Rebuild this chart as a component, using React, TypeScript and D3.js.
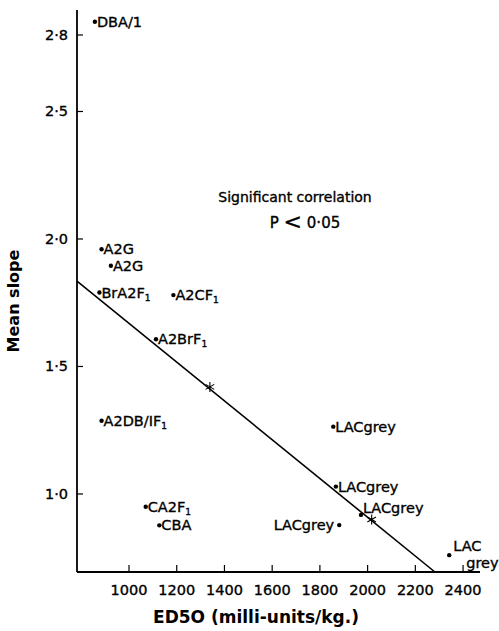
import React from "react";
import * as d3 from "d3";

const W = 499;
const H = 631;

// data
const xTicks = [1000, 1200, 1400, 1600, 1800, 2000, 2200, 2400];
const yTicks = [1.0, 1.5, 2.0, 2.5, 2.8];
const yTickLabels = ["1·0", "1·5", "2·0", "2·5", "2·8"];

const strainNames = [
  "DBA/1", "A2G", "A2G", "BrA2F", "A2CF", "A2BrF", "A2DB/IF", "CA2F", "CBA",
  "LACgrey", "LACgrey", "LACgrey", "LACgrey", "LAC grey",
];
const strainSub = [false, false, false, true, true, true, true, true, false, false, false, false, false, false];
const ed50 = [857, 885, 924, 876, 1186, 1113, 885, 1070, 1127, 1856, 1867, 1972, 1881, 2342];
const meanSlope = [2.852, 1.96, 1.895, 1.79, 1.78, 1.607, 1.287, 0.95, 0.877, 1.264, 1.029, 0.918, 0.878, 0.76];
const labelSide = ["r", "r", "r", "r", "r", "r", "r", "r", "r", "r", "r", "ur", "l", "stack"];

const lineX = [782, 2282];
const lineY = [1.835, 0.694];
const starX = [1339, 2017];
const starY = [1.42, 0.9];

const FONT = "'DejaVu Sans', 'Liberation Sans', sans-serif";
const HEAVY = { stroke: "#000", strokeWidth: 0.35 };

export default function App() {
  const x = d3.scaleLinear().domain([782, 2471]).range([77, 480]);
  const y = d3.scaleLinear().domain([0.694, 2.898]).range([572, 10]);

  const line = d3.line<number>()
    .x((d, i) => x(lineX[i]))
    .y((d, i) => y(lineY[i]));

  const starPath = (cx: number, cy: number, r: number) => {
    let p = "";
    for (let k = 0; k < 3; k++) {
      const a = (Math.PI / 3) * k + Math.PI / 2;
      const dx = r * Math.cos(a);
      const dy = r * Math.sin(a);
      p += `M${cx - dx},${cy - dy}L${cx + dx},${cy + dy}`;
    }
    return p;
  };

  const fs = 14.5;

  const renderLabel = (i: number) => {
    const px = x(ed50[i]);
    const py = y(meanSlope[i]);
    const name = strainNames[i];
    const side = labelSide[i];
    const sub = strainSub[i];
    const content = (
      <>
        {name}
        {sub && (
          <tspan fontSize={9} dy={3}>1</tspan>
        )}
      </>
    );
    if (side === "l") {
      return (
        <text x={px - 5} y={py + 5} textAnchor="end" fontSize={fs} fontFamily={FONT} {...HEAVY}>
          {name}
        </text>
      );
    }
    if (side === "ur") {
      return (
        <text x={px + 2} y={py - 2} fontSize={fs} fontFamily={FONT} {...HEAVY}>
          {name}
        </text>
      );
    }
    if (side === "stack") {
      return (
        <g fontSize={fs} fontFamily={FONT} {...HEAVY}>
          <text x={px + 4} y={py - 4}>LAC</text>
          <text x={px + 17} y={py + 13}>grey</text>
        </g>
      );
    }
    return (
      <text x={px + 2} y={py + 5} fontSize={fs} fontFamily={FONT} {...HEAVY}>
        {content}
      </text>
    );
  };

  return (
    <svg
      width={W}
      height={H}
      style={{ position: "absolute", left: 0, top: 0, display: "block", background: "#fff" }}
    >
      {/* axes */}
      <line x1={77} y1={10} x2={77} y2={572} stroke="#000" strokeWidth={1.8} />
      <line x1={77} y1={572} x2={480} y2={572} stroke="#000" strokeWidth={1.8} />

      {yTicks.map((t, i) => (
        <g key={"yt" + i}>
          <line x1={77} x2={83} y1={y(t)} y2={y(t)} stroke="#000" strokeWidth={1.2} />
          <text
            x={68}
            y={y(t) + 5}
            textAnchor="end"
            fontSize={14.5}
            fontFamily={FONT}
            {...HEAVY}
          >
            {yTickLabels[i]}
          </text>
        </g>
      ))}

      {xTicks.map((t, i) => (
        <g key={"xt" + i}>
          <line x1={x(t)} x2={x(t)} y1={572} y2={565} stroke="#000" strokeWidth={1.2} />
          <text
            x={x(t)}
            y={595}
            textAnchor="middle"
            fontSize={14.5}
            fontFamily={FONT}
            {...HEAVY}
          >
            {t}
          </text>
        </g>
      ))}

      {/* regression line */}
      <path d={line(lineX) || ""} fill="none" stroke="#000" strokeWidth={1.6} />
      {starX.map((sx, i) => (
        <path
          key={"st" + i}
          d={starPath(x(sx), y(starY[i]), 5)}
          stroke="#000"
          strokeWidth={1.1}
        />
      ))}

      {/* points */}
      {ed50.map((v, i) => (
        <g key={"p" + i}>
          <circle cx={x(v)} cy={y(meanSlope[i])} r={2.2} fill="#000" />
          {renderLabel(i)}
        </g>
      ))}

      {/* annotation */}
      <text x={295} y={202} textAnchor="middle" fontSize={14} fontFamily={FONT} {...HEAVY}>
        Significant correlation
      </text>
      <text x={305} y={228} textAnchor="middle" fontSize={15} fontFamily={FONT} {...HEAVY}>
        P <tspan fontSize={22} dy={1}>{"<"}</tspan>
        <tspan dy={-1}> 0·05</tspan>
      </text>

      {/* axis titles */}
      <text
        transform={`translate(19,301) rotate(-90)`}
        textAnchor="middle"
        fontSize={16}
        fontWeight="bold"
        fontFamily={FONT}
      >
        Mean slope
      </text>
      <text x={256} y={623} textAnchor="middle" fontSize={17} fontWeight="bold" fontFamily={FONT}>
        ED5O  (milli-units/kg.)
      </text>
    </svg>
  );
}
